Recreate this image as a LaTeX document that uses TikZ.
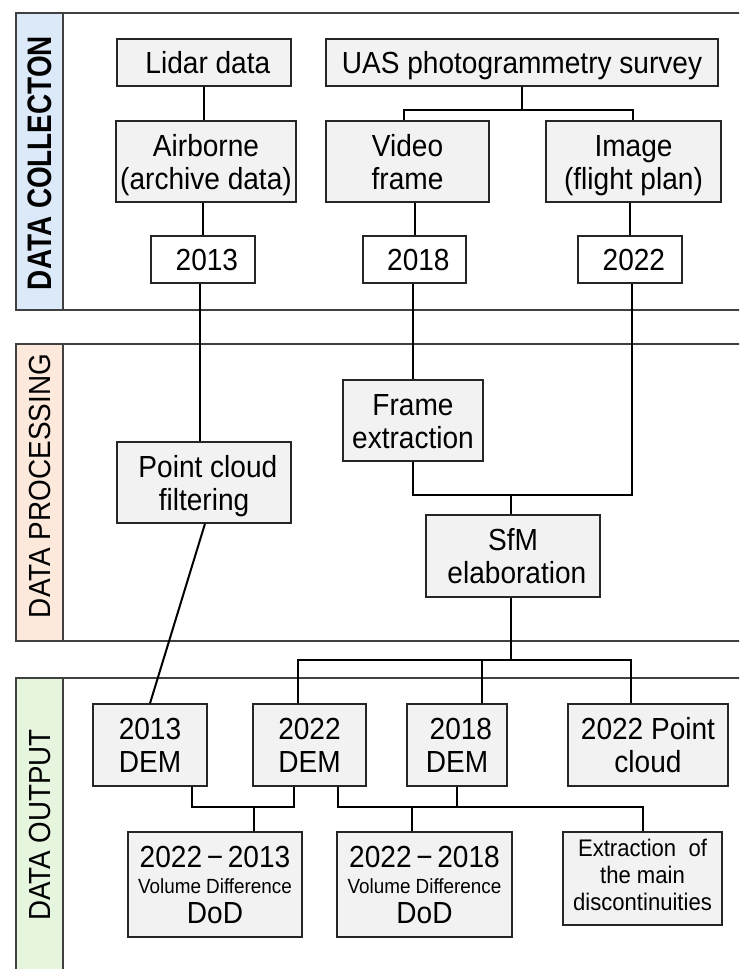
\documentclass[tikz,border=0pt]{standalone}
\usepackage{fontspec}
\setmainfont{Liberation Sans}
\usepackage{graphicx}
\definecolor{boxgray}{HTML}{F2F2F2}
\definecolor{bandblue}{HTML}{DCE9F8}
\definecolor{bandpeach}{HTML}{FDE9DC}
\definecolor{bandgreen}{HTML}{E6F5DE}
\definecolor{framegray}{HTML}{404040}
\newcommand\myfs[2]{\fontsize{#1}{#2}\selectfont}
\newcommand\txx[1]{\scalebox{0.92}[1]{\begin{tabular}{@{}c@{}}#1\end{tabular}}}
\newcommand\tx[1]{\raisebox{0pt}[\dimexpr\height+9pt\relax][\depth]{\txx{#1}}}
\begin{document}
\begin{tikzpicture}[x=1pt,y=-1pt,
  box/.style={draw=black!85, line width=1.3pt, fill=boxgray, inner sep=0pt, align=center, font=\myfs{30.5}{33}},
  yearbox/.style={box, fill=white},
  link/.style={draw=black, line width=2pt},
  sect/.style={draw=framegray, line width=1.3pt},
  bandlabel/.style={rotate=90, inner sep=0pt}
]
\useasboundingbox (0,0) rectangle (739,969);
\clip (0,0) rectangle (739,969);
\fill[white] (0,0) rectangle (739,969);

% sections
\draw[sect] (16,13) rectangle (760,310);
\draw[sect, fill=bandblue] (16,13) rectangle (63,310);
\node[bandlabel] (lab1) at (40,163) {\scalebox{0.82}[1]{\myfs{34}{40}\bfseries DATA COLLECTON}};

\draw[sect] (16,344) rectangle (760,641);
\draw[sect, fill=bandpeach] (16,344) rectangle (63,641);
\node[bandlabel] (lab2) at (40,486) {\scalebox{0.915}[1]{\myfs{30.5}{36}DATA PROCESSING}};

\draw[sect] (16,678) rectangle (760,990);
\draw[sect, fill=bandgreen] (16,678) rectangle (63,990);
\node[bandlabel] (lab3) at (40,825) {\scalebox{0.91}[1]{\myfs{30.5}{36}DATA OUTPUT}};

% data collection
\node[box, minimum width=174, minimum height=47] (lidar) at (204,62.5) {\tx{\ Lidar data}};
\node[box, minimum width=392, minimum height=47] (uas) at (522,62.5) {\tx{UAS photogrammetry survey}};
\node[box, minimum width=180, minimum height=81] (air) at (206,161.5) {\tx{Airborne\\(archive data)}};
\node[box, minimum width=163, minimum height=81] (video) at (407.5,161.5) {\tx{Video\\frame}};
\node[box, minimum width=175, minimum height=81] (image) at (633.5,161.5) {\tx{Image\\(flight plan)}};
\node[yearbox, minimum width=104, minimum height=47] (y13) at (203,259.5) {\tx{\ 2013}};
\node[yearbox, minimum width=103, minimum height=47] (y18) at (414.5,259.5) {\tx{\ 2018}};
\node[yearbox, minimum width=104, minimum height=47] (y22) at (630,259.5) {\tx{\ 2022}};

% data processing
\node[box, minimum width=140, minimum height=81] (frame) at (413,420.5) {\tx{Frame\\extraction}};
\node[box, minimum width=174, minimum height=81] (pcf) at (204,482.5) {\tx{\ Point cloud\\filtering}};
\node[box, minimum width=174, minimum height=82] (sfm) at (513,556) {\tx{SfM\\\ elaboration}};

% data output
\node[box, minimum width=114, minimum height=82] (dem13) at (150,745) {\tx{2013\\DEM}};
\node[box, minimum width=113, minimum height=82] (dem22) at (309.5,745) {\tx{2022\\DEM}};
\node[box, minimum width=100, minimum height=82] (dem18) at (457,745) {\tx{\ 2018\\DEM}};
\node[box, minimum width=160, minimum height=82] (pc22) at (648,745) {\tx{2022 Point\\cloud}};
\node[box, minimum width=174, minimum height=105] (dod13) at (215,884.5)
  {\tx{2022\,−\,2013\\[-7pt]{\myfs{20.5}{24}Volume Difference}\\[-3pt]DoD}};
\node[box, minimum width=175, minimum height=105] (dod18) at (424.5,884.5)
  {\tx{2022\,−\,2018\\[-7pt]{\myfs{20.5}{24}Volume Difference}\\[-3pt]DoD}};
\node[box, minimum width=159, minimum height=93, font=\myfs{24}{27}] (extr) at (642.5,878.5)
  {\txx{Extraction\ \ of\\the main\\discontinuities}};

% connectors: collection
\draw[link] (lidar.south) -- (lidar.south |- air.north);
\draw[link] (air.south -| y13.north) -- (y13.north);
\coordinate (j1) at (522,110);
\draw[link] (uas.south) -- (j1);
\draw[link] ([xshift=-3.5]video.north) |- (j1) -| ([xshift=-0.5]image.north);
\draw[link] (y18.north |- video.south) -- (y18.north);
\draw[link] (y22.north |- image.south) -- (y22.north);

% connectors: processing
\draw[link] ([xshift=-3]y13.south) -- ([xshift=-4]pcf.north);
\draw[link] ([xshift=-1.5]y18.south) -- (frame.north);
\coordinate (j2) at (511,495);
\draw[link] ([xshift=2]y22.south) |- (frame.south |- j2) -- (frame.south);
\draw[link] (j2) -- ([xshift=-2]sfm.north);

% connectors: output
\coordinate (j3) at (511,660);
\draw[link] ([xshift=-2]sfm.south) -- (j3);
\draw[link] ([xshift=-11.5]dem22.north) |- (j3) -| ([xshift=-17]pc22.north);
\draw[link] ([xshift=25]dem18.north) -- ([xshift=25]dem18.north |- j3);
\draw[link] ([xshift=1]pcf.south) -- (dem13.north);

\coordinate (j4) at (254,807);
\coordinate (j5) at (457,807);
\draw[link] ([xshift=42]dem13.south) |- (j4) -| ([xshift=-15.5]dem22.south);
\draw[link] (j4) -- ([xshift=39]dod13.north);
\draw[link] ([xshift=28.5]dem22.south) |- (j5) -| (extr.north);
\draw[link] (dem18.south) -- (j5);
\draw[link] ([xshift=-12.5]dod18.north) -- ([xshift=-12.5]dod18.north |- j5);
\end{tikzpicture}
\end{document}
